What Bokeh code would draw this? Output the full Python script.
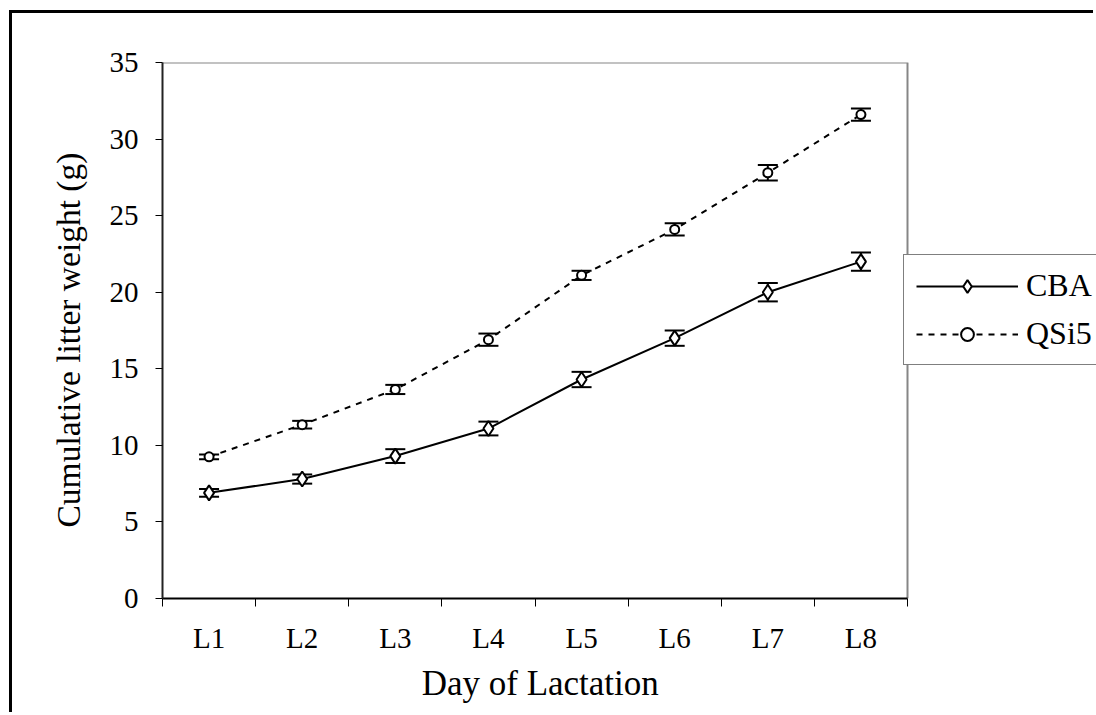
from bokeh.plotting import figure
from bokeh.models import (Range1d, FixedTicker, Whisker, ColumnDataSource, Legend,
                          LegendItem, TeeHead, Title)
from bokeh.embed import file_html
from bokeh.resources import INLINE

# ---- data ----
categories = ["L1", "L2", "L3", "L4", "L5", "L6", "L7", "L8"]
cba = [6.9, 7.8, 9.3, 11.1, 14.3, 17.0, 20.0, 22.0]
cba_err = [0.25, 0.3, 0.45, 0.45, 0.5, 0.5, 0.6, 0.6]
qsi5 = [9.25, 11.35, 13.65, 16.9, 21.1, 24.1, 27.8, 31.6]
qsi5_err = [0.15, 0.25, 0.3, 0.4, 0.3, 0.4, 0.5, 0.4]
y_ticks = [0, 5, 10, 15, 20, 25, 30, 35]
x_label = "Day of Lactation"
y_label = "Cumulative litter weight (g)"

FONT = "Liberation Serif"

n = len(categories)
y_max = y_ticks[-1]
xs = [i + 0.5 for i in range(n)]
boundaries = list(range(n + 1))

# layout (pixels)
W, H = 1084, 702
LEFT, TOP, BOTTOM = 150, 49, 117
PLOT_W = 745                      # visible plot area width
FRAME_W = W - LEFT                # frame extends to the right edge (legend lives there)
x_end = n * FRAME_W / PLOT_W

XLAB_PX = 35
YLAB_PX = 33.5
XLAB_EM = 6.476                   # advance width of x_label in Times/Liberation Serif em

p = figure(width=W, height=H, output_backend="svg", toolbar_location=None,
           x_range=Range1d(0, x_end), y_range=Range1d(0, y_max),
           min_border_left=LEFT, min_border_right=0, min_border_top=TOP,
           min_border_bottom=BOTTOM)
p.styles = {"margin-left": "9px", "margin-top": "10px",
            "border-left": "3px solid black", "border-top": "3px solid black"}
p.background_fill_color = "white"
p.border_fill_color = "white"
p.outline_line_color = None
p.xgrid.visible = False
p.ygrid.visible = False

# x axis: labels at centres, ticks at category boundaries
p.xaxis.bounds = (0, n)
p.xaxis.ticker = FixedTicker(ticks=xs, minor_ticks=boundaries)
p.xaxis.major_label_overrides = {x: c for x, c in zip(xs, categories)}
p.xaxis.major_tick_out = 0
p.xaxis.major_tick_in = 0
p.xaxis.minor_tick_out = 8
p.xaxis.minor_tick_in = 0
p.xaxis.minor_tick_line_color = "black"
p.xaxis.minor_tick_line_width = 1
p.xaxis.axis_line_color = "black"
p.xaxis.axis_line_width = 2
p.xaxis.major_label_standoff = 15

p.yaxis.ticker = FixedTicker(ticks=y_ticks, minor_ticks=[])
p.yaxis.major_tick_out = 7
p.yaxis.major_tick_in = 0
p.yaxis.major_tick_line_color = "black"
p.yaxis.major_tick_line_width = 1
p.yaxis.axis_line_color = "#222222"
p.yaxis.axis_line_width = 2
p.yaxis.major_label_standoff = 17

for ax in (p.xaxis, p.yaxis):
    ax.major_label_text_font = FONT
    ax.major_label_text_font_size = "29px"
    ax.major_label_text_color = "black"

# axis titles (as titles so they can be centred on the visible plot area)
x_title = Title(text=x_label, align="left",
                offset=PLOT_W / 2 - XLAB_EM * XLAB_PX / 2,
                text_font=FONT, text_font_size=f"{XLAB_PX}px",
                text_font_style="normal", text_color="black", standoff=10)
p.add_layout(x_title, "below")
y_title = Title(text=y_label, align="left", offset=71,
                text_font=FONT, text_font_size=f"{YLAB_PX}px",
                text_font_style="normal", text_color="black", standoff=40)
p.add_layout(y_title, "left")

# gray plot-area border (top and right)
p.line([0, n, n], [y_max, y_max, 0], line_color="#868686", line_width=2)

src_c = ColumnDataSource(dict(x=xs, y=cba,
                              lo=[v - e for v, e in zip(cba, cba_err)],
                              hi=[v + e for v, e in zip(cba, cba_err)]))
src_q = ColumnDataSource(dict(x=xs, y=qsi5,
                              lo=[v - e for v, e in zip(qsi5, qsi5_err)],
                              hi=[v + e for v, e in zip(qsi5, qsi5_err)]))

for src in (src_q, src_c):
    w = Whisker(base="x", upper="hi", lower="lo", source=src, line_color="black",
                line_width=2, level="underlay",
                upper_head=TeeHead(size=20, line_width=2, line_color="black"),
                lower_head=TeeHead(size=20, line_width=2, line_color="black"))
    p.add_layout(w)

lq = p.line("x", "y", source=src_q, line_color="black", line_width=2, line_dash="6 6")
sq = p.scatter("x", "y", source=src_q, marker="circle", size=9, fill_color="white",
               line_color="black", line_width=2)
lc = p.line("x", "y", source=src_c, line_color="black", line_width=2)
sc = p.scatter("x", "y", source=src_c, marker="diamond", size=15, fill_color="white",
               line_color="black", line_width=2)

legend = Legend(items=[LegendItem(label="CBA", renderers=[lc, sc]),
                       LegendItem(label="QSi5", renderers=[lq, sq])],
                location=(PLOT_W - 4, 233), glyph_width=102, glyph_height=32,
                label_height=32, label_width=110, label_standoff=8, padding=12,
                spacing=11, label_text_font=FONT, label_text_font_size="32px",
                label_text_color="black", border_line_color="black",
                border_line_width=1, background_fill_color="white",
                background_fill_alpha=1.0, margin=0)
p.add_layout(legend, "center")

open("out.html", "w").write(file_html(p, INLINE))
